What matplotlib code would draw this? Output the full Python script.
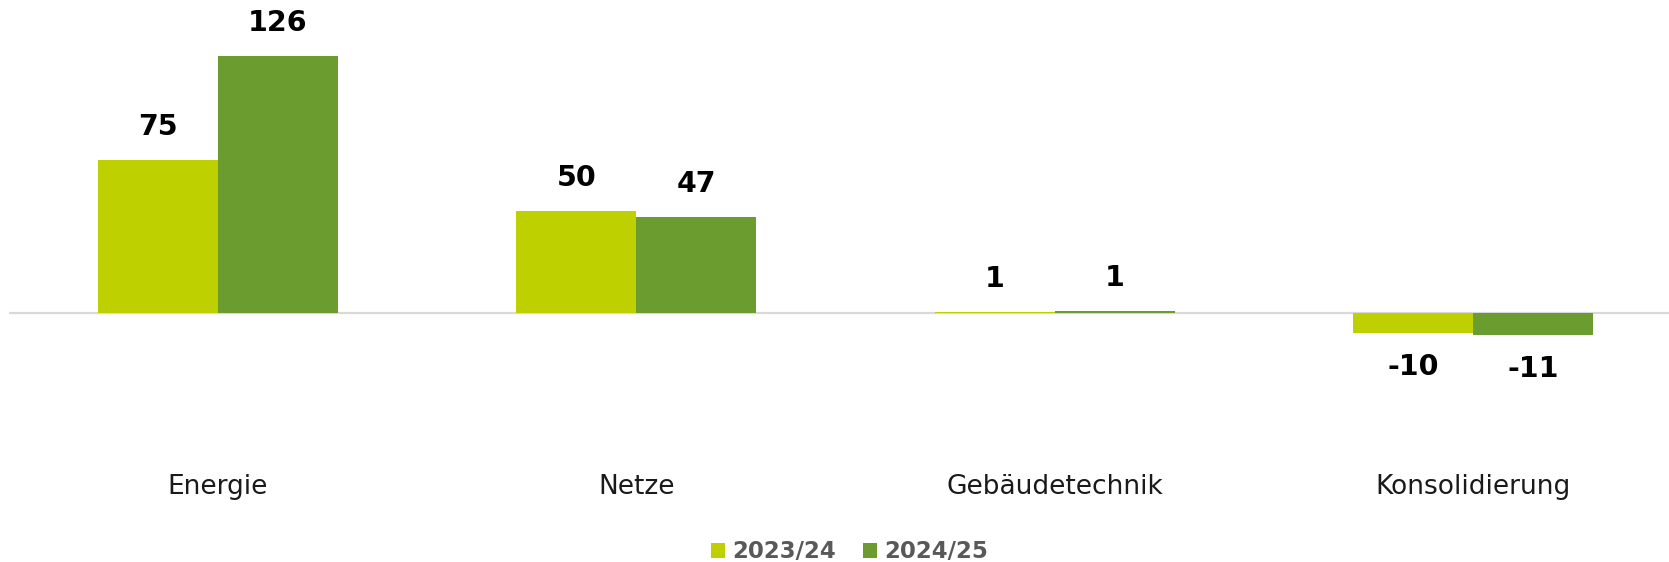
import matplotlib
matplotlib.use("Agg")
import matplotlib.pyplot as plt
from matplotlib.patches import Patch
import numpy as np

categories = ["Energie", "Netze", "Gebäudetechnik", "Konsolidierung"]
series_names = ["2023/24", "2024/25"]
values_2324 = [75, 50, 0.7, -10]
values_2425 = [126, 47, 1.2, -11]
colors = ["#BED000", "#6A9C30"]

plt.rcParams['font.family'] = ['DejaVu Sans']

W, H = 1669, 562
fig = plt.figure(figsize=(W / 100, H / 100), dpi=100)
ax_left_px, ax_right_px = 9, 1669
ax_top_px, ax_bot_px = 20, 400
ax = fig.add_axes([ax_left_px / W, 1 - ax_bot_px / H,
                   (ax_right_px - ax_left_px) / W, (ax_bot_px - ax_top_px) / H])

x = np.arange(len(categories))
bw = 0.287
for i, (vals, col) in enumerate(zip([values_2324, values_2425], colors)):
    pos = x + (i - 0.5) * bw
    bars = ax.bar(pos, vals, width=bw, color=col, label=series_names[i], zorder=2)
    for b, v in zip(bars, vals):
        off = 23.5 if v >= 0 else -24.5
        ax.annotate(f"{v:.0f}", (b.get_x() + b.get_width() / 2, v),
                    xytext=(0, off), textcoords="offset points",
                    ha="center", va="center", fontsize=20.5,
                    fontweight="bold", color="black")

px_per_cat = 418.33
ax.set_xlim(-(218 - ax_left_px) / px_per_cat, 3 + (ax_right_px - 1473) / px_per_cat)
ppu = 2.04
ax.set_ylim(-(ax_bot_px - 313) / ppu, (313 - ax_top_px) / ppu)

ax.axhline(0, color="#D9D9D9", linewidth=1.6, zorder=1)
for s in ax.spines.values():
    s.set_visible(False)
ax.set_yticks([])
ax.set_xticks(x)
ax.set_xticklabels(categories, fontsize=19, color="#1a1a1a")
ax.tick_params(axis="x", length=0, pad=53)

handles = [Patch(facecolor=c, edgecolor="none") for c in colors]
leg = fig.legend(handles, series_names, loc="center", bbox_to_anchor=(0.509, 0.018),
                 ncol=2, frameon=False, handlelength=0.6, handleheight=0.6,
                 handletextpad=0.3, columnspacing=1.2,
                 prop={"size": 16.5, "weight": "bold"})
for t in leg.get_texts():
    t.set_color("#595959")

fig.savefig("out.png", dpi=100)
